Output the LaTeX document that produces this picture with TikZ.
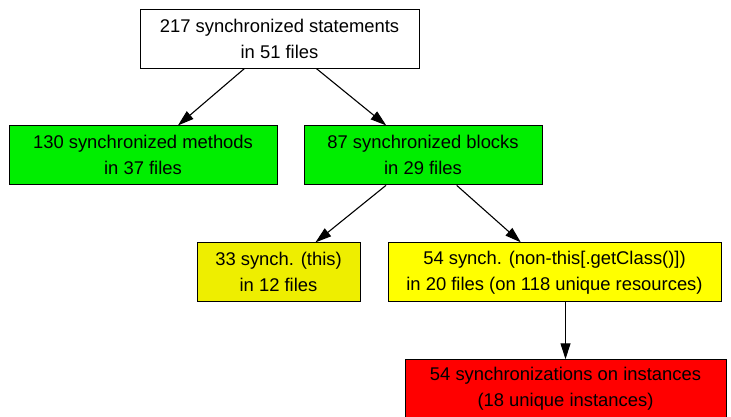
\documentclass[tikz,border=0pt]{standalone}
\usepackage{fontspec}
\setmainfont{Liberation Sans}
\usetikzlibrary{positioning,arrows.meta}

\definecolor{gfill}{HTML}{00EE00}
\definecolor{yfilldark}{HTML}{EEEE00}
\definecolor{yfill}{HTML}{FFFF00}
\definecolor{rfill}{HTML}{FF0000}

\begin{document}
\begin{tikzpicture}[
  x=1pt, y=-1pt,
  font=\fontsize{18.4}{26}\selectfont,
  box/.style={draw, line width=0.9pt, align=center, minimum height=59pt, inner sep=0pt, fill=white},
  gbox/.style={box, fill=gfill},
  ybox/.style={box, fill=yfill},
  rbox/.style={box, fill=rfill},
  arr/.style={-{Triangle[length=16pt, width=10pt]}, line width=1.1pt}
]
\useasboundingbox (0,0) rectangle (731,416);
% Top: all statements
\node[box, minimum width=279pt] (stmts) at (279.5,38.5) {217 synchronized statements\\ in 51 files};
% Second row: methods / blocks
\node[gbox, minimum width=268pt, below=57pt of stmts, xshift=-136.5pt] (meth)
  {130 synchronized methods\\ in 37 files};
\node[gbox, minimum width=238pt, below=57pt of stmts, xshift=143.5pt] (blk)
  {87 synchronized blocks\\ in 29 files};
% Third row: this / non-this
\node[ybox, fill=yfilldark, minimum width=163pt, below=57pt of blk, xshift=-144.5pt] (onthis)
  {33 synch. (this)\\ in 12 files};
\node[ybox, minimum width=333pt, below=57pt of blk, xshift=131.5pt] (nonthis)
  {54 synch. (non-this[.getClass()])\\ in 20 files (on 118 unique resources)};
% Bottom: instances
\node[rbox, minimum width=321pt, below=57pt of nonthis, xshift=11pt] (inst)
  {54 synchronizations on instances\\ (18 unique instances)};
\draw[arr] (stmts) -- (meth);
\draw[arr] (stmts) -- (blk);
\draw[arr] (blk) -- (onthis);
\draw[arr] (blk) -- (nonthis);
\draw[arr] (nonthis.south -| inst) -- (inst);
\end{tikzpicture}
\end{document}
